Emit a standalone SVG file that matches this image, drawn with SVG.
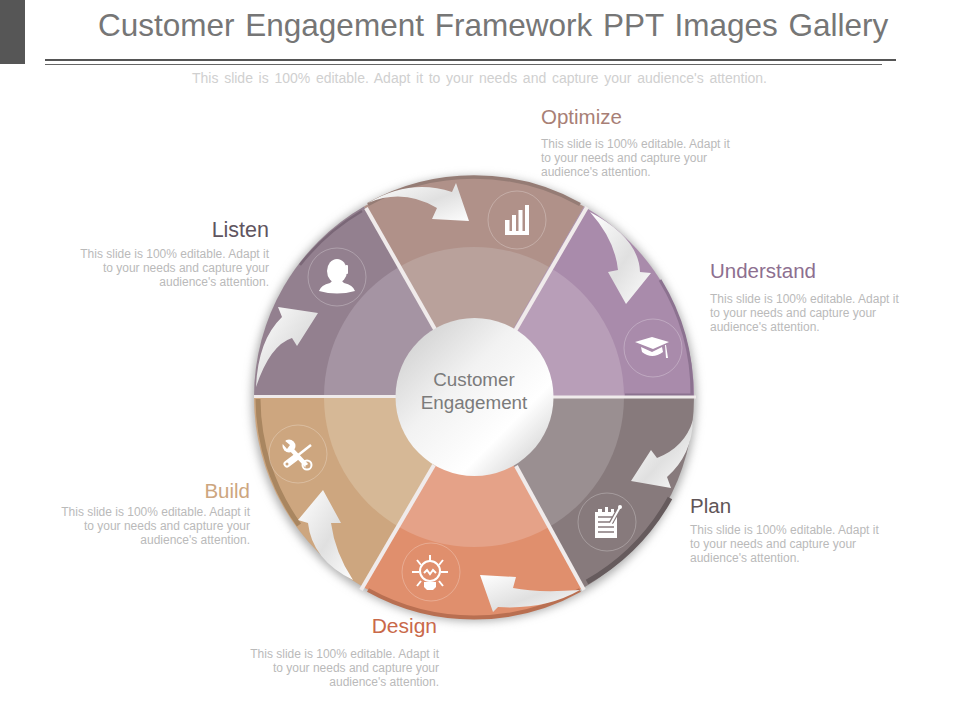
<svg xmlns="http://www.w3.org/2000/svg" width="960" height="720" viewBox="0 0 960 720">
<style>
.t{font-family:"Liberation Sans",Arial,sans-serif}
.h{font-size:20.500px}
.d{font-family:"Liberation Sans",Arial,sans-serif;font-size:12px;fill:#bababa}
.e{text-anchor:end}
.ring{fill:none;stroke:#fff;stroke-opacity:.25;stroke-width:1}
.ic{fill:#fff}
.il{fill:none;stroke:#fff;stroke-width:2}
.ar{fill:url(#ag)}
.rim{fill:none}
</style>
<defs>
<linearGradient id="ag" x1="0" y1="0" x2="1" y2="1"><stop offset="0" stop-color="#fff"/><stop offset=".55" stop-color="#e0e0e0"/><stop offset="1" stop-color="#fdfdfd"/></linearGradient>
<linearGradient id="disc" x1="0" y1="0" x2="1" y2="1"><stop offset="0" stop-color="#c8c8c8"/><stop offset=".4" stop-color="#f2f2f2"/><stop offset=".7" stop-color="#ffffff"/><stop offset="1" stop-color="#c4c4c4"/></linearGradient>
<filter id="b" x="-20%" y="-20%" width="140%" height="140%"><feGaussianBlur stdDeviation="5"/></filter>
</defs>
<g id="header">
<rect x="0" y="0" width="25" height="64" fill="#565656"/>
<rect x="45" y="59" width="851" height="2" fill="#555"/>
<rect x="45" y="64" width="837" height="1" fill="#666"/>
<text class="t" x="98" y="36" font-size="31.500" fill="#767676" word-spacing="2">Customer Engagement Framework PPT Images Gallery</text>
<text class="t" x="192" y="83" font-size="14" fill="#d0d0d0" word-spacing="1.800">This slide is 100% editable. Adapt it to your needs and capture your audience's attention.</text>
</g>
<circle cx="474" cy="399" r="222" fill="#aaaaaa" filter="url(#b)"/>
<g id="seg-optimize">
<path d="M364 206.500A220 220 0 0 1 584 206.500L474 397Z" fill="#b09189"/>
<path d="M399 267A150 150 0 0 1 549 267L474 397Z" fill="#b9a19b"/>
<path d="M368 204.500A218 218 0 0 1 580 204.500" class="rim" stroke="#957c75" stroke-width="3.500"/>
<circle cx="517" cy="220" r="29" class="ring"/>
<path class="ic" d="M505 235V220H509.500V231H512V215H516V231H518.500V210H522.500V231H525V205H529V235Z"/>
</g>
<g id="seg-understand">
<path d="M584 206.500A220 220 0 0 1 694 397H474Z" fill="#a98bab"/>
<path d="M549 267A150 150 0 0 1 624 397H474Z" fill="#b89eb8"/>
<path d="M660 280A218 218 0 0 1 692 395H625" class="rim" stroke="#8c7290" stroke-width="3"/>
<circle cx="653" cy="348" r="29" class="ring"/>
<path class="ic" d="M635 342L652 337L669 342L653 349ZM641 347L652 352L662 347L663 352Q652 360 642 352ZM665 345H666L668 358H666Z"/>
</g>
<g id="seg-plan">
<path d="M694 397A220 220 0 0 1 584 587.500L474 397Z" fill="#877a7c"/>
<path d="M624 397A150 150 0 0 1 549 527L474 397Z" fill="#9a8f91"/>
<path d="M670 498A218 218 0 0 1 587 582" class="rim" stroke="#665b5d" stroke-width="5"/>
<circle cx="607" cy="522" r="29" class="ring"/>
<path class="ic" d="M595 538V512H598V509H602V512H605V507H608V512H611V509H614V512H617V538Z"/>
<path stroke="#877a7c" stroke-width="1.500" d="M598 517H614M598 522H614M598 527H614M598 532H614"/>
<path stroke="#877a7c" stroke-width="4.500" d="M620 507L611 523"/>
<path stroke="#fff" stroke-width="2" d="M620 507L610 525"/>
<circle cx="620" cy="507" r="2" class="ic"/>
</g>
<g id="seg-design">
<path d="M584 587.500A220 220 0 0 1 364 587.500L474 397Z" fill="#e08f6d"/>
<path d="M549 527A150 150 0 0 1 399 527L474 397Z" fill="#e5a288"/>
<path d="M580 590A218 218 0 0 1 368 590" class="rim" stroke="#b96f51" stroke-width="4"/>
<circle cx="431" cy="572" r="29" class="ring"/>
<circle cx="430" cy="571" r="10" class="il"/>
<path class="il" d="M412 572H419M441 572H448M430 555V561M417 560L421 565M443 560L439 565M417 586L421 581M443 586L439 581M424 573L427 570L430 574L433 570L436 573"/>
<path class="ic" d="M424 582H436V587L433 590H427L424 587Z"/>
</g>
<g id="seg-build">
<path d="M364 587.500A220 220 0 0 1 254 397H474Z" fill="#cda67f"/>
<path d="M399 527A150 150 0 0 1 324 397H474Z" fill="#d6b896"/>
<path d="M258 399A218 218 0 0 0 299 525" class="rim" stroke="#a98660" stroke-width="5"/>
<circle cx="298" cy="454" r="29" class="ring"/>
<path stroke="#fff" stroke-width="2.500" d="M311 445L297 456"/>
<path stroke="#fff" stroke-width="7" stroke-linecap="round" d="M295 458L287 464"/>
<circle cx="287" cy="464" r="1.500" fill="#cda67f"/>
<path stroke="#fff" stroke-width="4.500" d="M290 448L307 466"/>
<circle cx="289" cy="446" r="6.500" class="ic"/>
<path fill="#cda67f" d="M284 440L290 445L287 449L281 442ZM309 470L305 466L310 463L313 467Z"/>
<circle cx="307" cy="465" r="4.500" class="il" stroke-width="1.500"/>
</g>
<g id="seg-listen">
<path d="M254 397A220 220 0 0 1 364 206.500L474 397Z" fill="#93808f"/>
<path d="M324 397A150 150 0 0 1 399 267L474 397Z" fill="#a594a3"/>
<path d="M300 265A218 218 0 0 1 362 211" class="rim" stroke="#7a6777" stroke-width="2.500"/>
<circle cx="337" cy="277" r="29" class="ring"/>
<ellipse cx="337" cy="271" rx="10" ry="12" class="ic"/>
<rect x="345.500" y="265" width="2.500" height="9" rx="1" class="ic"/>
<path class="ic" d="M319 291Q321 285 330 283L333 280H341L344 283Q353 285 355 291Q337 296 319 291Z"/>
</g>
<g id="connectors">
<g stroke="#f0ebeb" stroke-width="4">
<line x1="366" y1="208" x2="436" y2="331"/>
<line x1="587" y1="207" x2="515" y2="331"/>
<line x1="516" y1="466" x2="584" y2="590"/>
<line x1="434" y1="465" x2="361" y2="590"/>
</g>
<g stroke="#f0ebeb" stroke-width="3">
<line x1="254" y1="396.500" x2="400" y2="396.500"/>
<line x1="548" y1="397" x2="696" y2="397"/>
</g>
<path class="ar" d="M368 203Q410 178 452 192L456 183L469 221L432 219L437 208Q403 188 368 203Z"/>
<path class="ar" d="M590 212Q639 238 640 272L651 273L626 304L608 272L618 270Q615 240 590 212Z"/>
<path class="ar" d="M693 420Q692 455 667 477L671 488L631 481L651 450L657 458Q685 447 693 420Z"/>
<path class="ar" d="M580 590Q537 593 513 588L516 577L480 575L493 612L498 607Q545 610 580 590Z"/>
<path class="ar" d="M353 580Q335 553 331 523L341 523L323 490L298 520L308 523Q312 560 353 580Z"/>
<path class="ar" d="M256 387Q258 340 282 317L278 307L318 313L297 346L292 338Q270 345 256 387Z"/>
</g>
<g id="center">
<circle cx="474.500" cy="397" r="79" fill="url(#disc)"/>
<text class="t" x="474" y="385.500" font-size="18.800" fill="#7b7b7b" text-anchor="middle">Customer</text>
<text class="t" x="474" y="408.500" font-size="18.800" fill="#7b7b7b" text-anchor="middle">Engagement</text>
</g>
<g id="label-optimize">
<text class="t h" x="541" y="124" fill="#a87f76">Optimize</text>
<text class="d" x="541" y="148">This slide is 100% editable. Adapt it</text>
<text class="d" x="541" y="162">to your needs and capture your</text>
<text class="d" x="541" y="176">audience's attention.</text>
</g>
<g id="label-understand">
<text class="t h" x="710" y="278" fill="#8d6f90">Understand</text>
<text class="d" x="710" y="303">This slide is 100% editable. Adapt it</text>
<text class="d" x="710" y="317">to your needs and capture your</text>
<text class="d" x="710" y="331">audience's attention.</text>
</g>
<g id="label-plan">
<text class="t h" x="690" y="513" fill="#5f5557">Plan</text>
<text class="d" x="690" y="534">This slide is 100% editable. Adapt it</text>
<text class="d" x="690" y="548">to your needs and capture your</text>
<text class="d" x="690" y="562">audience's attention.</text>
</g>
<g id="label-design">
<text class="t e" x="437" y="633" font-size="21" fill="#c9694a">Design</text>
<text class="d e" x="439" y="658">This slide is 100% editable. Adapt it</text>
<text class="d e" x="439" y="672">to your needs and capture your</text>
<text class="d e" x="439" y="686">audience's attention.</text>
</g>
<g id="label-build">
<text class="t h e" x="250" y="498" fill="#cda67f">Build</text>
<text class="d e" x="250" y="516">This slide is 100% editable. Adapt it</text>
<text class="d e" x="250" y="530">to your needs and capture your</text>
<text class="d e" x="250" y="544">audience's attention.</text>
</g>
<g id="label-listen">
<text class="t e" x="269" y="237" font-size="21.500" fill="#5f5560">Listen</text>
<text class="d e" x="269" y="258">This slide is 100% editable. Adapt it</text>
<text class="d e" x="269" y="272">to your needs and capture your</text>
<text class="d e" x="269" y="286">audience's attention.</text>
</g>
</svg>
